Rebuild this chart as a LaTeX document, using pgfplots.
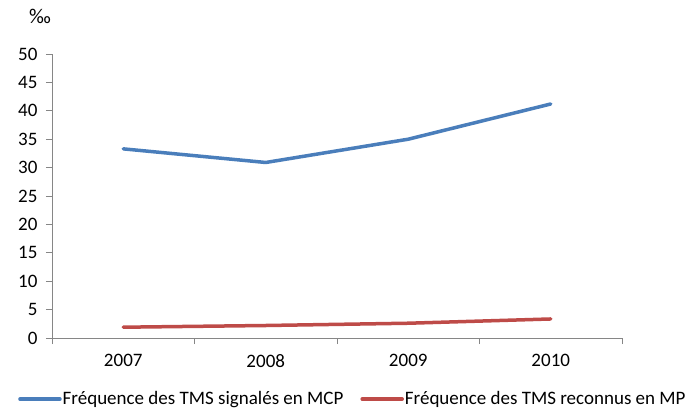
\documentclass[border=0pt]{standalone}
\usepackage{pgfplots}
\pgfplotsset{compat=1.18}
\usepackage{fontspec}
\setmainfont{Carlito}
\definecolor{sblue}{HTML}{4A7EBB}
\definecolor{sred}{HTML}{BE4B48}
\definecolor{axgray}{HTML}{868686}
\begin{document}
\begin{tikzpicture}[font={\fontsize{19bp}{22bp}\selectfont}]
\useasboundingbox (0,0) rectangle (685bp,409bp);
\begin{axis}[
 at={(52bp,71bp)}, anchor=south west,
 scale only axis, width=570bp, height=284bp,
 xmin=-0.5, xmax=3.5, ymin=0, ymax=50,
 axis x line=bottom, axis y line=left,
 axis line style={axgray, line width=0.9bp, -},
 xtick={-0.5,0.5,1.5,2.5,3.5}, xticklabels={},
 extra x ticks={0,1,2,3}, extra x tick labels={2007,2008,2009,2010},
 extra x tick style={major tick length=0pt, xticklabel style={yshift=-13bp}},
 ytick={0,5,...,50},
 yticklabel style={xshift=-5bp},
 tick align=outside, major tick length=6bp,
 tick style={axgray, line width=0.9bp},
 /pgf/number format/assume math mode=true,
 legend style={at={(axis description cs:-0.0596,-0.215)}, anchor=west, draw=none, fill=none,
   legend columns=2, /tikz/every even column/.append style={column sep=16bp},
   inner sep=0pt, nodes={inner sep=1bp}},
 legend image code/.code={\draw[#1, line width=3.5bp] (0bp,0bp) -- (40bp,0bp);},
]
\addplot[sblue, line width=3.5bp, line join=round, line cap=round] coordinates {(0,33.3) (1,30.9) (2,35.0) (3,41.2)};
\addlegendentry{Fréquence des TMS signalés en MCP}
\addplot[sred, line width=3.5bp, line join=round, line cap=round] coordinates {(0,1.9) (1,2.2) (2,2.6) (3,3.35)};
\addlegendentry{Fréquence des TMS reconnus en MP}
\end{axis}
\node at (40bp,393bp) {\fontsize{21bp}{24bp}\selectfont ‰};
\end{tikzpicture}
\end{document}
